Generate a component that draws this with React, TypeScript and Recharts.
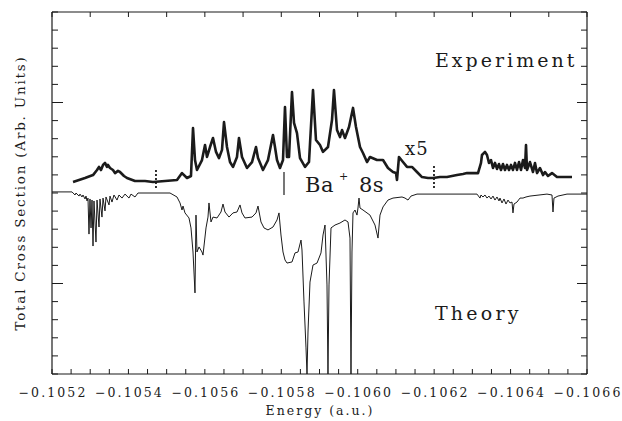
import { LineChart, Line, XAxis, YAxis, ReferenceLine } from "recharts"

// energies in a.u., cross sections in arbitrary units (theory drawn inverted below zero)
const expEnergy = [
  -0.105255, -0.1052864, -0.1053073, -0.1053178, -0.105323, -0.1053282, -0.1053335, -0.1053387,
  -0.1053439, -0.1053465, -0.1053518, -0.1053596, -0.1053649, -0.1053727, -0.1053779, -0.1053884,
  -0.1053963, -0.1054172, -0.1054434, -0.1054643, -0.1054957, -0.1055271, -0.1055402, -0.1055533,
  -0.1055637, -0.105569, -0.1055742, -0.1055794, -0.1055925, -0.1056004, -0.1056056, -0.1056135,
  -0.1056213, -0.1056292, -0.105637, -0.1056449, -0.1056501, -0.1056579, -0.1056658, -0.1056736,
  -0.1056841, -0.1056893, -0.1056972, -0.1057103, -0.1057234, -0.1057338, -0.1057391, -0.1057521,
  -0.1057652, -0.1057783, -0.1057835, -0.1057888, -0.1057966, -0.1058045, -0.1058097, -0.1058149,
  -0.1058202, -0.105828, -0.1058333, -0.1058411, -0.105849, -0.1058621, -0.1058725, -0.105883,
  -0.1058908, -0.1059013, -0.1059092, -0.1059222, -0.1059327, -0.1059379, -0.1059458, -0.1059536,
  -0.1059589, -0.1059667, -0.1059772, -0.1059877, -0.1059955, -0.106006, -0.1060138, -0.1060243,
  -0.1060321, -0.1060505, -0.1060662, -0.1060792, -0.1060923, -0.1061002, -0.1061028, -0.106108,
  -0.1061185, -0.106129, -0.106142, -0.1061551, -0.1061682, -0.1061839, -0.106197, -0.1062153,
  -0.1062336, -0.1062598, -0.1062755, -0.106286, -0.1063148, -0.1063226, -0.1063252, -0.1063331,
  -0.1063383, -0.1063435, -0.1063488, -0.106354, -0.1063592, -0.1063645, -0.1063697, -0.1063749,
  -0.1063802, -0.1063854, -0.1063906, -0.1063959, -0.1064011, -0.1064063, -0.1064116, -0.1064168,
  -0.1064221, -0.1064273, -0.1064325, -0.1064378, -0.1064404, -0.106443, -0.1064508, -0.1064587,
  -0.1064639, -0.1064692, -0.106477, -0.1064849, -0.1064901, -0.1064979, -0.1065084, -0.1065215,
  -0.1065424, -0.1065607,
]
const expSignal = [
  0.61, 0.83, 0.99, 1.27, 1.44, 1.27, 1.55, 1.66, 1.44, 1.55, 1.38, 1.27, 1.1, 1.22, 1.16, 0.94,
  0.83, 0.66, 0.66, 0.61, 0.66, 0.72, 1.1, 0.83, 0.94, 3.59, 1.82, 1.27, 1.82, 2.65, 1.99, 2.54,
  3.04, 2.27, 1.93, 2.38, 3.92, 2.54, 1.71, 1.44, 1.99, 3.04, 1.99, 1.38, 1.71, 2.54, 1.93, 1.27,
  1.82, 3.2, 2.54, 1.82, 1.38, 1.82, 4.75, 1.99, 1.99, 5.58, 3.87, 3.31, 1.93, 1.44, 1.71, 5.69,
  2.93, 2.65, 2.27, 2.54, 4.03, 5.69, 3.48, 3.09, 3.48, 3.04, 3.65, 4.7, 3.65, 2.54, 2.21, 1.71,
  1.99, 1.82, 1.82, 1.38, 1.16, 1.1, 0.72, 1.99, 1.71, 1.44, 1.44, 1.16, 0.88, 0.83, 0.83, 0.88,
  0.88, 0.99, 1.05, 1.1, 1.1, 1.66, 2.1, 2.27, 2.1, 1.66, 1.82, 1.38, 1.66, 1.33, 1.6, 1.27,
  1.6, 1.27, 1.55, 1.27, 1.55, 1.27, 1.66, 1.27, 1.71, 1.27, 1.82, 1.38, 2.65, 1.27, 1.71, 1.16,
  1.66, 1.1, 1.38, 0.99, 1.16, 0.94, 1.1, 0.88, 0.88, 0.88,
]

const theoryEnergy = [
  -0.1052, -0.1052523, -0.1052602, -0.1052628, -0.1052707, -0.1052733, -0.1052785, -0.1052811,
  -0.1052864, -0.105289, -0.1052916, -0.1052942, -0.1052968, -0.1052994, -0.1053021, -0.1053047,
  -0.1053073, -0.1053099, -0.1053151, -0.1053178, -0.105323, -0.1053256, -0.1053308, -0.1053335,
  -0.1053387, -0.1053413, -0.1053492, -0.1053518, -0.105357, -0.1053622, -0.1053701, -0.1053753,
  -0.1053832, -0.105391, -0.1054015, -0.1054067, -0.1054172, -0.105425, -0.1055088, -0.1055271,
  -0.105535, -0.1055402, -0.1055428, -0.105548, -0.1055585, -0.1055637, -0.105569, -0.1055742,
  -0.1055768, -0.1055794, -0.1055847, -0.1055925, -0.1055951, -0.105603, -0.1056082, -0.1056108,
  -0.1056161, -0.1056213, -0.1056318, -0.1056422, -0.1056475, -0.1056527, -0.1056632, -0.1056736,
  -0.1056841, -0.105692, -0.1056972, -0.105705, -0.1057234, -0.1057338, -0.1057391, -0.1057469,
  -0.1057548, -0.1057652, -0.1057783, -0.1057888, -0.105794, -0.1057992, -0.1058045, -0.1058097,
  -0.105815, -0.105828, -0.1058359, -0.1058437, -0.1058516, -0.1058542, -0.1058594, -0.1058647,
  -0.1058673, -0.1058699, -0.1058751, -0.105883, -0.1058935, -0.1059039, -0.1059092, -0.1059144,
  -0.1059196, -0.1059222, -0.1059249, -0.1059301, -0.1059406, -0.1059536, -0.1059667, -0.1059746,
  -0.1059798, -0.1059824, -0.105985, -0.1059877, -0.1059929, -0.1059981, -0.1060007, -0.1060034,
  -0.106006, -0.1060138, -0.1060321, -0.1060452, -0.1060531, -0.1060583, -0.1060662, -0.1060792,
  -0.1060923, -0.1061159, -0.1061237, -0.1061316, -0.1061394, -0.1061551, -0.1062677, -0.1063121,
  -0.10632, -0.1063226, -0.1063278, -0.1063331, -0.1063383, -0.1063435, -0.1063488, -0.106354,
  -0.1063592, -0.1063645, -0.1063697, -0.1063723, -0.1063776, -0.1063828, -0.106388, -0.1063933,
  -0.1063985, -0.1064037, -0.1064063, -0.106409, -0.1064168, -0.1064247, -0.1064325, -0.1064404,
  -0.1064508, -0.1064953, -0.1065084, -0.106511, -0.1065136, -0.1065241, -0.1065477, -0.1066,
]
const theorySignal = [
  0.06, 0.06, -0.11, 0, -0.17, -0.06, -0.22, -0.11, -0.33, -0.17, -0.44, -0.28, -2.27, -0.33,
  -1.93, -0.39, -2.93, -0.44, -2.71, -0.39, -1.88, -0.33, -1.33, -0.28, -0.99, -0.22, -0.66,
  -0.17, -0.5, -0.11, -0.39, -0.11, -0.28, -0.06, -0.28, -0.06, -0.22, 0, 0, -0.22, -0.55, -0.94,
  -0.72, -1.1, -1.38, -1.93, -3.26, -5.52, -1.22, -3.26, -2.98, -3.26, -3.43, -1.93, -1.33, -0.55,
  -1.6, -1.33, -1.38, -1.05, -0.61, -1.05, -1.33, -1.1, -1.05, -0.66, -1.1, -1.38, -1.33, -1.1,
  -0.72, -1.6, -1.93, -2.04, -1.88, -1.49, -1.1, -2.32, -3.26, -3.7, -3.87, -3.81, -3.31, -3.26,
  -2.6, -3.15, -6.02, -8.56, -10, -7.68, -4.92, -3.98, -3.87, -3.31, -2.32, -1.77, -5.08, -10,
  -5.08, -1.93, -1.77, -1.66, -1.49, -1.6, -2.49, -10, -3.26, -1.1, -0.94, -1.22, -0.83, -0.28,
  -0.83, -0.94, -1.22, -1.77, -2.49, -1.22, -0.77, -0.39, -0.28, -0.22, -0.28, -0.39, -0.17,
  -0.06, -0.06, -0.06, -0.28, -0.11, -0.22, -0.11, -0.28, -0.17, -0.33, -0.17, -0.39, -0.22,
  -0.44, -0.28, -0.55, -0.33, -0.61, -0.39, -0.55, -0.5, -1.1, -0.61, -0.5, -0.28, -0.28, -0.22,
  -0.17, -0.06, -0.11, -1.05, -0.28, -0.17, -0.06, -0.06,
]

// small vertical markers drawn on the experimental trace
const markerEnergy = [-0.1054721, -0.1058071, -0.1061996]
const markerTop = [1.38, 1.16, 1.5]
const markerBottom = [0.28, -0.11, 0.28]

const energyLabels = [-0.1052, -0.1054, -0.1056, -0.1058, -0.106, -0.1062, -0.1064, -0.1066]
const bottomTicks = [
  -0.1052, -0.10525, -0.1053, -0.10535, -0.1054, -0.10545, -0.1055, -0.10555, -0.1056, -0.10565,
  -0.1057, -0.10575, -0.1058, -0.10585, -0.1059, -0.10595, -0.106, -0.10605, -0.1061, -0.10615,
  -0.1062, -0.10625, -0.1063, -0.10635, -0.1064, -0.10645, -0.1065, -0.10655, -0.1066,
]
const topTicks = [
  -0.1052, -0.1053, -0.1054, -0.1055, -0.1056, -0.1057, -0.1058, -0.1059, -0.106, -0.1061,
  -0.1062, -0.1063, -0.1064, -0.1065, -0.1066,
]
const signalTicks = [-10, -9, -8, -7, -6, -5, -4, -3, -2, -1, 0, 1, 2, 3, 4, 5, 6, 7, 8, 9, 10]

const experiment = expEnergy.map((energy, i) => ({ energy, signal: expSignal[i] }))
const theory = theoryEnergy.map((energy, i) => ({ energy, signal: theorySignal[i] }))

const INK = "#1b1b1b"
const FONT = "'DejaVu Serif', serif"

const isLabel = (v: number) => energyLabels.some((t) => Math.abs(t - v) < 1e-9)
const fmt = (v: number) => v.toFixed(4).replace("-", "\u2212")

function BottomTick({ x, y, payload }: any) {
  const major = isLabel(payload.value)
  return (
    <g>
      <line x1={x} x2={x} y1={y} y2={y - 5} stroke={INK} />
      {major && (
        <text x={x + 1} y={y + 23} textAnchor="middle" fontFamily={FONT} fontSize={12.5} letterSpacing={2.1} fill={INK}>
          {fmt(payload.value)}
        </text>
      )}
    </g>
  )
}

function TopTick({ x, y }: any) {
  return <line x1={x} x2={x} y1={y} y2={y + 5} stroke={INK} />
}

function LeftTick({ x, y, payload }: any) {
  const len = Math.abs(payload.value) === 5 ? 11 : 6
  return <line x1={x} x2={x + len} y1={y} y2={y} stroke={INK} />
}

function RightTick({ x, y, payload }: any) {
  const len = Math.abs(payload.value) === 5 ? 10 : 6
  return <line x1={x} x2={x - len} y1={y} y2={y} stroke={INK} />
}

export default function App() {
  return (
    <div style={{ position: "absolute", left: 0, top: 0, width: 622, height: 421, background: "#fff" }}>
      <LineChart width={622} height={421} margin={{ top: 11, right: 34, bottom: 46, left: 51 }}>
        <XAxis
          type="number"
          dataKey="energy"
          domain={[-0.1066, -0.1052]}
          reversed
          allowDataOverflow
          ticks={bottomTicks}
          interval={0}
          height={1}
          tickSize={0}
          tickMargin={0}
          tickLine={false}
          axisLine={{ stroke: INK, strokeWidth: 1.2 }}
          tick={(p: any) => <BottomTick {...p} />}
        />
        <XAxis
          xAxisId="top"
          orientation="top"
          type="number"
          dataKey="energy"
          domain={[-0.1066, -0.1052]}
          reversed
          allowDataOverflow
          ticks={topTicks}
          interval={0}
          height={1}
          tickSize={0}
          tickMargin={0}
          tickLine={false}
          axisLine={{ stroke: INK, strokeWidth: 1.2 }}
          tick={(p: any) => <TopTick {...p} />}
        />
        <YAxis
          type="number"
          domain={[-10, 10]}
          allowDataOverflow
          ticks={signalTicks}
          interval={0}
          width={1}
          tickSize={0}
          tickMargin={0}
          tickLine={false}
          axisLine={{ stroke: INK, strokeWidth: 1.2 }}
          tick={(p: any) => <LeftTick {...p} />}
        />
        <YAxis
          yAxisId="right"
          orientation="right"
          type="number"
          domain={[-10, 10]}
          allowDataOverflow
          ticks={signalTicks}
          interval={0}
          width={1}
          tickSize={0}
          tickMargin={0}
          tickLine={false}
          axisLine={{ stroke: INK, strokeWidth: 1.2 }}
          tick={(p: any) => <RightTick {...p} />}
        />
        <Line
          data={theory}
          dataKey="signal"
          type="linear"
          stroke={INK}
          strokeWidth={1}
          dot={false}
          activeDot={false}
          isAnimationActive={false}
        />
        <Line
          data={experiment}
          dataKey="signal"
          type="linear"
          stroke={INK}
          strokeWidth={2.6}
          strokeLinejoin="round"
          dot={false}
          activeDot={false}
          isAnimationActive={false}
        />
        {markerEnergy.map((e, i) => (
          <ReferenceLine
            key={e}
            segment={[
              { x: e, y: markerBottom[i] },
              { x: e, y: markerTop[i] },
            ]}
            stroke={INK}
            strokeWidth={i === 1 ? 1.2 : 1.8}
            strokeDasharray={i === 1 ? undefined : "2 2"}
          />
        ))}
      </LineChart>
      <svg width={622} height={421} style={{ position: "absolute", left: 0, top: 0, pointerEvents: "none" }}>
        <g fontFamily={FONT} fill={INK}>
          <text x={435} y={67} fontSize={19} letterSpacing={3}>Experiment</text>
          <text x={435} y={320} fontSize={19} letterSpacing={3.2}>Theory</text>
          <text x={305} y={192} fontSize={21} letterSpacing={0.5}>Ba</text>
          <text x={339} y={180} fontSize={11}>+</text>
          <text x={359} y={192} fontSize={21} letterSpacing={0.5}>8s</text>
          <text x={405} y={155} fontSize={18} letterSpacing={1}>x5</text>
          <text x={320} y={415} fontSize={12.5} letterSpacing={2} textAnchor="middle">Energy (a.u.)</text>
          <text
            transform="translate(25,193) rotate(-90)"
            fontSize={13.5}
            letterSpacing={1.8}
            textAnchor="middle"
          >
            Total Cross Section (Arb. Units)
          </text>
        </g>
      </svg>
    </div>
  )
}
